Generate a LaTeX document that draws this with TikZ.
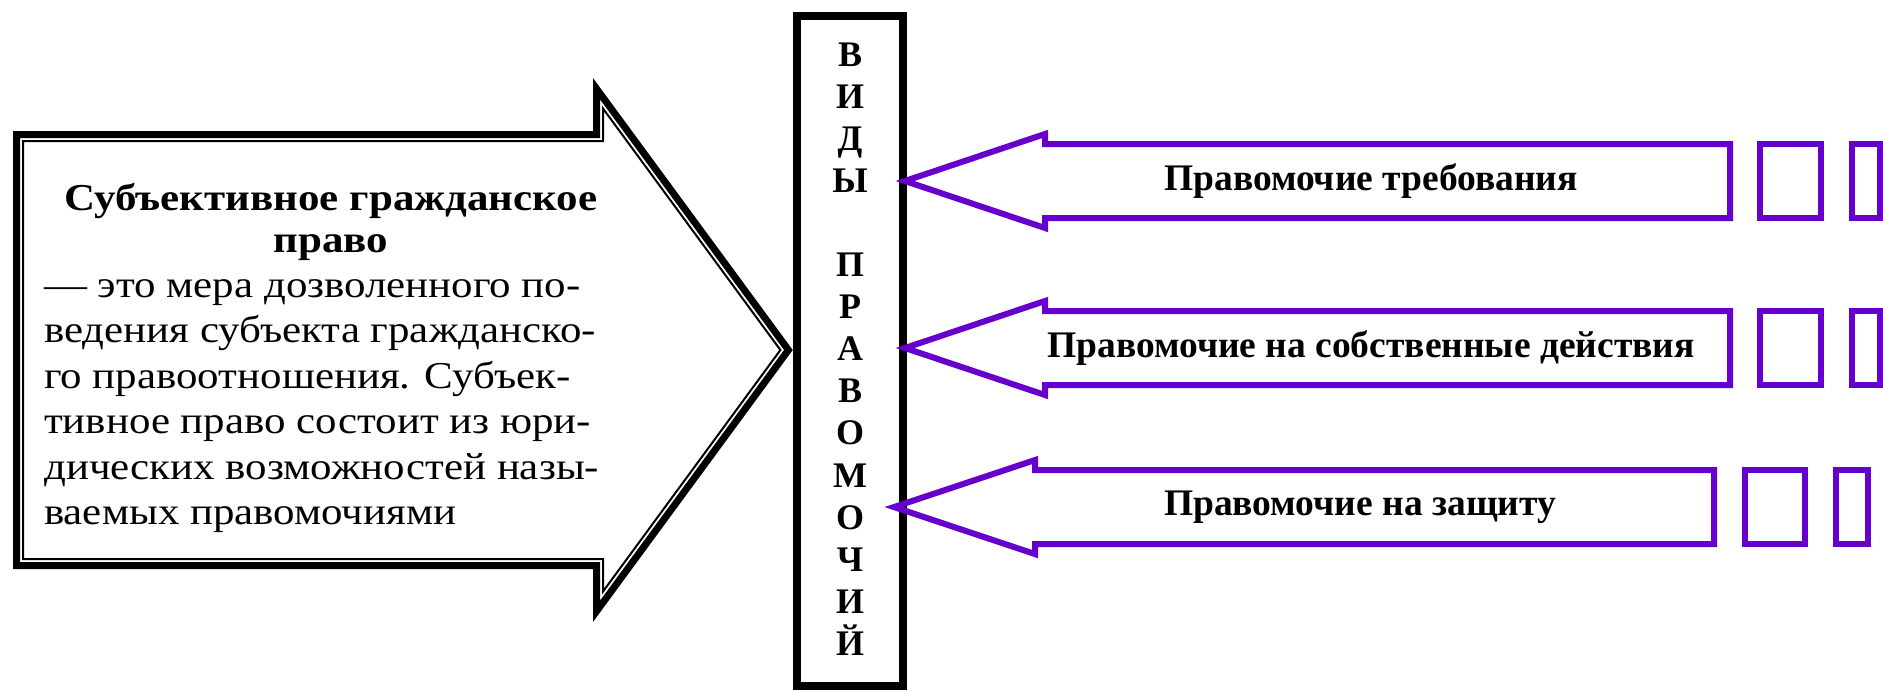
\documentclass[tikz,border=0pt]{standalone}
\usepackage{fontspec}
\setmainfont{Liberation Serif}
\newfontfamily\leftfont[FakeStretch=1.13]{Liberation Serif}
\definecolor{violetc}{RGB}{102,0,204}
\newcommand\purparrow[4]{%
  \draw[varrow] (#1,#2) -- (#3,{#2-47}) -- (#3,{#2-37}) -- (#4,{#2-37})
    -- (#4,{#2+37}) -- (#3,{#2+37}) -- (#3,{#2+47}) -- cycle;}
\begin{document}
\begin{tikzpicture}[x=1pt,y=-1pt,
  blkline/.style={line width=7pt,line join=miter},
  thinline/.style={line width=2pt,line join=miter},
  varrow/.style={draw=violetc,line width=6pt,line join=miter},
  vsq/.style={draw=violetc,line width=6pt},
  bodytxt/.style={inner sep=0pt,anchor=base west,font=\leftfont\fontsize{38pt}{42pt}\selectfont},
  titletxt/.style={inner sep=0pt,anchor=base,font=\leftfont\fontsize{38pt}{42pt}\selectfont\bfseries},
  lettertxt/.style={inner sep=0pt,anchor=base,font=\fontsize{36pt}{42pt}\selectfont\bfseries},
  ptxt/.style={inner sep=0pt,anchor=center,font=\fontsize{37.5pt}{42pt}\selectfont\bfseries}]
\useasboundingbox (0,0) rectangle (1883,689);
\clip (0,0) rectangle (1883,689);
% left big arrow
\draw[blkline] (16.5,134.5) -- (596.5,134.5) -- (596.5,88.7) -- (788.4,350)
  -- (596.5,611.3) -- (596.5,565.5) -- (16.5,565.5) -- cycle;
\draw[thinline] (23,141) -- (603,141) -- (603,108.5) -- (780.4,350)
  -- (603,591.5) -- (603,559) -- (23,559) -- cycle;
\node[titletxt] (t1) at (331,210) {Субъективное гражданское};
\node[titletxt] (t2) at (331,252) {право};
\node[bodytxt] (b1) at (44,297) {— это мера дозволенного по-};
\node[bodytxt] (b2) at (44,342.5) {ведения субъекта гражданско-};
\node[bodytxt] (b3) at (44,388) {го правоотношения. Субъек-};
\node[bodytxt] (b4) at (44,433.5) {тивное право состоит из юри-};
\node[bodytxt] (b5) at (44,479) {дических возможностей назы-};
\node[bodytxt] (b6) at (44,524.5) {ваемых правомочиями};
% central box
\node[draw,line width=8pt,minimum width=106pt,minimum height=670pt,inner sep=0pt] (vid) at (850,350.5) {};
\foreach \ch/\k in {В/0,И/1,Д/2,Ы/3,П/5,Р/6,А/7,В/8,О/9,М/10,О/11,Ч/12,И/13,Й/14}
  \node[lettertxt] (l\k) at (850,{66+42.1*\k}) {\ch};
% purple arrows
\purparrow{905}{181}{1045}{1730}
\purparrow{905}{348}{1045}{1730}
\purparrow{894}{507}{1035}{1714}
\node[ptxt] (p1) at (1371,181) {Правомочие требования};
\node[ptxt] (p2) at (1371,348) {Правомочие на собственные действия};
\node[ptxt] (p3) at (1360,507) {Правомочие на защиту};
% small squares
\draw[vsq] (1760,144) rectangle (1821,218);
\draw[vsq] (1852,144) rectangle (1880,218);
\draw[vsq] (1760,311) rectangle (1821,385);
\draw[vsq] (1852,311) rectangle (1880,385);
\draw[vsq] (1745,470) rectangle (1805,544);
\draw[vsq] (1836,470) rectangle (1868,544);
\end{tikzpicture}
\end{document}
